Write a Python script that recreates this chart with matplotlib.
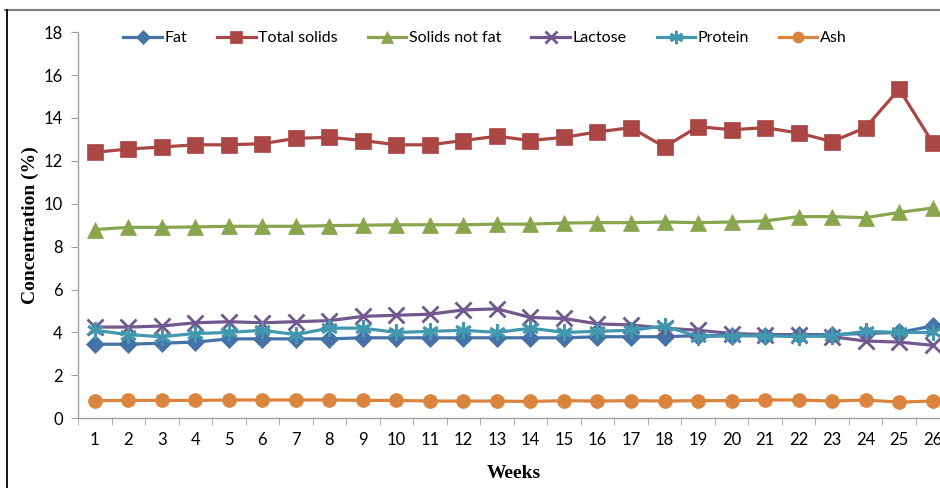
import numpy as np
import matplotlib
matplotlib.use('Agg')
import matplotlib.pyplot as plt
from matplotlib.lines import Line2D

# ── Weekly milk composition (%) ───────────────────────────────────────────
weeks = list(range(1, 27))

fat = [3.45, 3.45, 3.5, 3.55, 3.7, 3.7, 3.7, 3.7, 3.75, 3.75, 3.75, 3.75, 3.75,
       3.75, 3.75, 3.8, 3.8, 3.8, 3.85, 3.85, 3.85, 3.9, 3.9, 3.95, 4.0, 4.3]
total_solids = [12.4, 12.55, 12.65, 12.75, 12.75, 12.8, 13.05, 13.1, 12.95, 12.75,
                12.75, 12.95, 13.15, 12.95, 13.1, 13.35, 13.55, 12.65, 13.6, 13.45,
                13.55, 13.3, 12.9, 13.55, 15.35, 12.85]
solids_not_fat = [8.8, 8.9, 8.9, 8.92, 8.95, 8.95, 8.95, 8.98, 9.0, 9.02, 9.02, 9.02,
                  9.05, 9.05, 9.1, 9.12, 9.12, 9.15, 9.12, 9.15, 9.2, 9.4, 9.4,
                  9.35, 9.6, 9.8]
lactose = [4.25, 4.25, 4.3, 4.45, 4.5, 4.45, 4.5, 4.55, 4.75, 4.8, 4.85, 5.05, 5.1,
           4.7, 4.65, 4.4, 4.35, 4.2, 4.1, 3.95, 3.9, 3.9, 3.8, 3.6, 3.55, 3.4]
protein = [4.1, 3.9, 3.8, 3.95, 4.0, 4.1, 3.9, 4.2, 4.2, 4.0, 4.05, 4.1, 4.0, 4.2,
           4.0, 4.05, 4.1, 4.3, 3.8, 3.85, 3.85, 3.8, 3.85, 4.05, 4.0, 4.0]
ash = [0.82, 0.83, 0.83, 0.83, 0.85, 0.85, 0.85, 0.85, 0.83, 0.83, 0.8, 0.8, 0.8,
       0.78, 0.82, 0.8, 0.82, 0.8, 0.82, 0.82, 0.85, 0.85, 0.8, 0.85, 0.75, 0.8]

series = [
    ('Fat',            fat,            '#4572A7', 'D',       9),
    ('Total solids',   total_solids,   '#AA4643', 's',       11),
    ('Solids not fat', solids_not_fat, '#89A54E', '^',       11),
    ('Lactose',        lactose,        '#71588F', 'x',       11),
    ('Protein',        protein,        '#4198AF', (6, 2, 0), 12),
    ('Ash',            ash,            '#DB843D', 'o',       10),
]

plt.rcParams['font.family'] = ['Lato', 'DejaVu Sans']

fig = plt.figure(figsize=(9.4, 4.88), dpi=100)
ax = fig.add_axes([0.083, 0.143, 0.927, 0.791])

for name, vals, col, mk, ms in series:
    ax.plot(weeks, vals, color=col, linewidth=2.3, marker=mk, markersize=ms,
            markerfacecolor=col, markeredgecolor=col,
            markeredgewidth=2.0 if mk in ('x', (6, 2, 0)) else 0.5,
            label=name, clip_on=False)

ax.set_xlim(0.5, 26.5)
ax.set_ylim(0, 18)
ax.set_yticks(np.arange(0, 19, 2))
ax.set_xticks(weeks)
ax.set_xticks(np.arange(0.5, 27, 1), minor=True)
ax.tick_params(axis='x', which='major', length=0, labelsize=12, pad=10)
ax.tick_params(axis='x', which='minor', length=5, color='#a0a0a0', direction='out')
ax.tick_params(axis='y', length=5, color='#a0a0a0', labelsize=12, pad=6)

for s in ('top', 'right'):
    ax.spines[s].set_visible(False)
for s in ('left', 'bottom'):
    ax.spines[s].set_color('#a0a0a0')
    ax.spines[s].set_linewidth(1.0)

ax.set_xlabel('Weeks', fontsize=14, fontweight='bold', family='Liberation Serif',
              labelpad=12)
ax.set_ylabel('Concentration (%)', fontsize=14, fontweight='bold',
              family='Liberation Serif', labelpad=3)

leg = ax.legend(loc='upper center', bbox_to_anchor=(0.467, 1.04), ncol=6,
                frameon=False, fontsize=11.5, handlelength=2.4, handletextpad=0.15,
                columnspacing=1.9, markerscale=0.8)

# outer chart frame
fig.add_artist(Line2D([0.005, 1.0], [0.98, 0.98], transform=fig.transFigure,
                      color='#808080', linewidth=1.5))
fig.add_artist(Line2D([0.0075, 0.0075], [0.0, 0.98], transform=fig.transFigure,
                      color='black', linewidth=1.3))

fig.savefig('out.png', dpi=100)
